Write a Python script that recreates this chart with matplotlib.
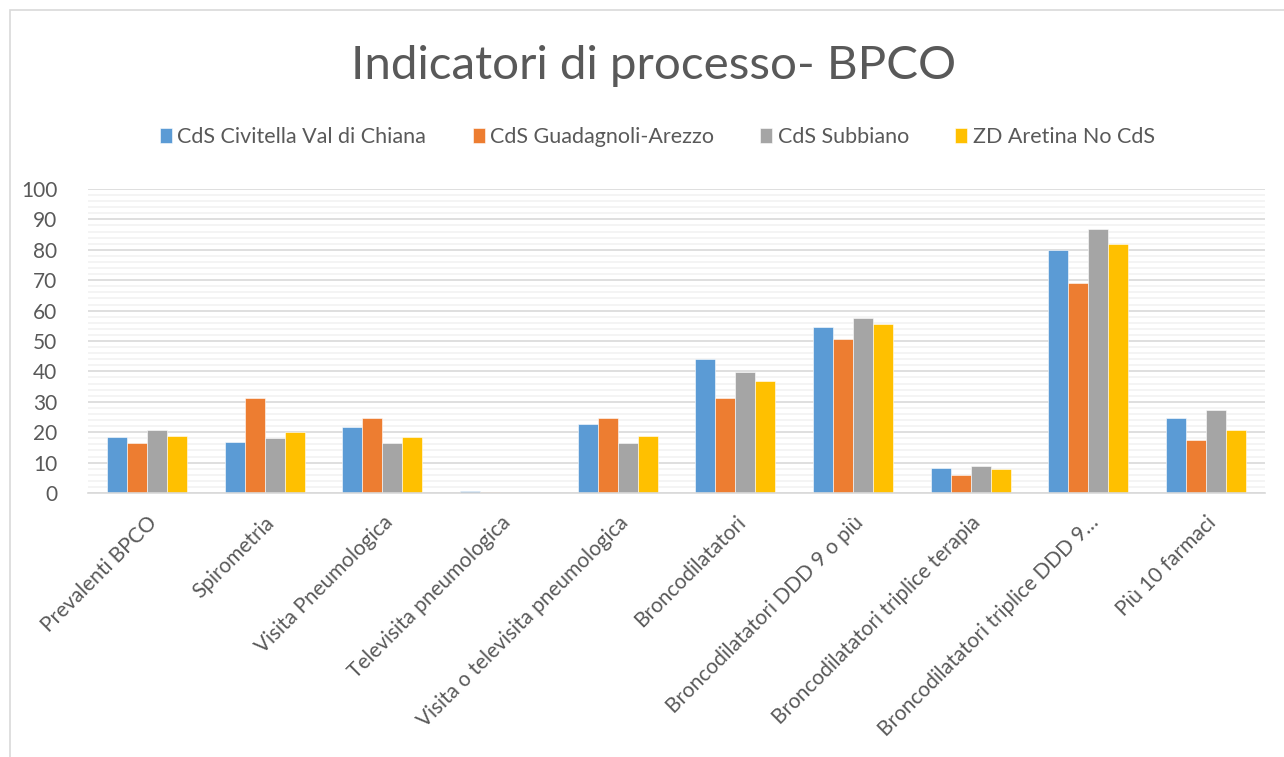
import numpy as np
import matplotlib.pyplot as plt
from matplotlib.patches import Rectangle
from matplotlib.ticker import MultipleLocator

categories = ["Prevalenti BPCO", "Spirometria", "Visita Pneumologica",
              "Televisita pneumologica", "Visita o televisita pneumologica",
              "Broncodilatatori", "Broncodilatatori DDD 9 o più",
              "Broncodilatatori triplice terapia",
              "Broncodilatatori triplice DDD 9\u2026", "Più 10 farmaci"]

civitella = [18.3, 16.9, 21.8, 0.7, 22.6, 44.2, 54.5, 8.3, 80.0, 24.6]
guadagnoli = [16.3, 31.3, 24.8, 0.45, 24.8, 31.2, 50.6, 6.0, 69.1, 17.3]
subbiano = [20.6, 18.0, 16.5, 0.1, 16.5, 39.9, 57.6, 8.9, 86.7, 27.2]
aretina = [18.8, 20.2, 18.5, 0.1, 18.7, 36.7, 55.6, 7.8, 82.0, 20.7]

series = [("CdS Civitella Val di Chiana", civitella, "#5B9BD5"),
          ("CdS Guadagnoli-Arezzo", guadagnoli, "#ED7D31"),
          ("CdS Subbiano", subbiano, "#A5A5A5"),
          ("ZD Aretina No CdS", aretina, "#FFC000")]

plt.rcParams['font.family'] = ['Lato', 'DejaVu Sans']
txt = "#595959"

fig = plt.figure(figsize=(12.84, 7.57), dpi=100)
# chart frame (cropped screenshot: only left and top edges visible)
fig.add_artist(Rectangle((10/1284, -0.1), 1.2, 1 - 10/757 + 0.1, transform=fig.transFigure,
                         fill=False, edgecolor="#D9D9D9", linewidth=1.2))

ax = fig.add_axes([88/1284, 1 - 493/757, (1265 - 88)/1284, (493 - 189)/757])

x = np.arange(len(categories))
w = 0.17
for i, (name, vals, col) in enumerate(series):
    ax.bar(x + (i - 1.5) * w, vals, w, color=col, label=name,
           edgecolor="white", linewidth=0.4)

ax.set_xlim(-0.5, len(categories) - 0.5)
ax.set_ylim(0, 100)
ax.yaxis.set_major_locator(MultipleLocator(10))
ax.yaxis.set_minor_locator(MultipleLocator(2))
ax.grid(axis="y", which="major", color="#D9D9D9", linewidth=1.2)
ax.grid(axis="y", which="minor", color="#F2F2F2", linewidth=1.2)
ax.set_axisbelow(True)
for s in ["top", "right", "left"]:
    ax.spines[s].set_visible(False)
ax.spines["bottom"].set_color("#D9D9D9")
ax.spines["bottom"].set_linewidth(1.2)
ax.tick_params(axis="both", which="both", length=0, colors=txt, labelsize=15)
ax.tick_params(axis="y", pad=22)
ax.set_xticks(x)
ax.set_xticklabels(categories, rotation=45, ha="right", rotation_mode="anchor")
ax.tick_params(axis="x", pad=14)

fig.text(0.509, 1 - 66/757, "Indicatori di processo- BPCO", ha="center", va="center",
         fontsize=34.2, color=txt, fontweight="normal")

fig.legend(loc="center", bbox_to_anchor=(0.512, 1 - 137/757), ncol=4, frameon=False,
           fontsize=15.5, labelcolor=txt, handlelength=0.56, handleheight=0.7,
           handletextpad=0.25, columnspacing=2.15)

fig.savefig("out.png", dpi=100, facecolor="white")
